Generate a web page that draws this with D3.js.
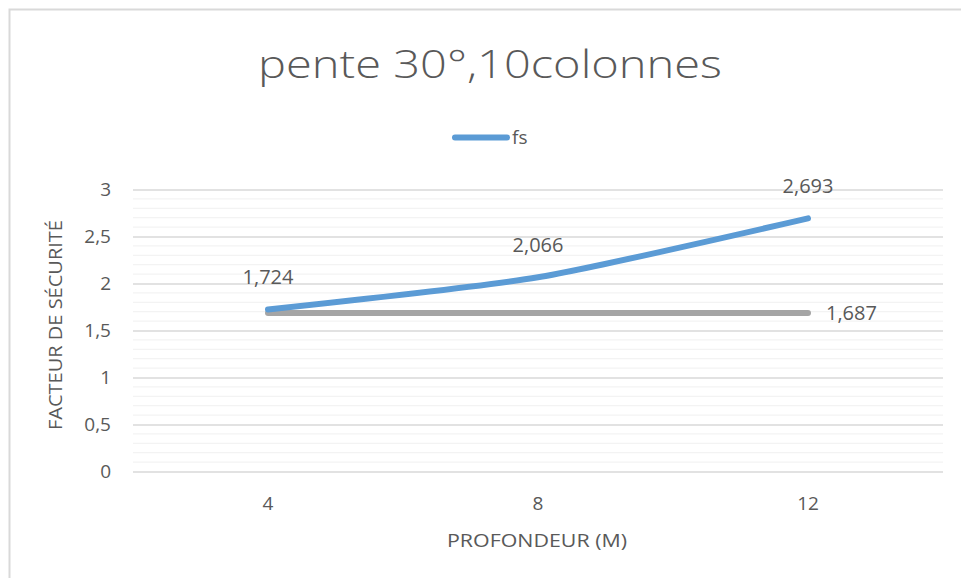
<!DOCTYPE html>
<html>
<head>
<meta charset="utf-8">
<script src="https://cdn.jsdelivr.net/npm/d3@7"></script>
<style>
  html, body { margin: 0; padding: 0; background: #fff; }
  svg { display: block; }
  text { font-family: "Open Sans", "Liberation Sans", sans-serif; fill: #595959; }
</style>
</head>
<body>
<svg id="chart" width="961" height="578"></svg>
<script>
// Depth categories (m) and safety factors
const depths = ["4", "8", "12"];
const fsValues = [1.724, 2.066, 2.693];
const limitValues = [1.687, 1.687, 1.687];
const yTicks = [0, 0.5, 1, 1.5, 2, 2.5, 3];
const seriesNames = ["fs", ""];

const titleText = "pente 30°,10colonnes";
const xTitle = "PROFONDEUR (M)";
const yTitle = "FACTEUR DE SÉCURITÉ";

const svg = d3.select("#chart");
const W = 961, H = 578;
const margin = { left: 133, right: 18, top: 189.5, bottom: 106.5 };

// Chart frame (only top and left edges fall inside the view)
svg.append("rect")
  .attr("x", 9.5).attr("y", 9.5)
  .attr("width", 1000).attr("height", 700)
  .attr("fill", "#fff").attr("stroke", "#d9d9d9").attr("stroke-width", 2);

const x = d3.scaleBand().domain(depths)
  .range([margin.left, W - margin.right]);
const y = d3.scaleLinear().domain([0, 3])
  .range([H - margin.bottom, margin.top]);
const fmt = v => d3.format(".3f")(v).replace(".", ",");
const tickFmt = v => String(v).replace(".", ",");

// Minor gridlines every 0.1
const minor = d3.range(0, 31).map(i => i / 10).filter(v => Math.round(v * 10) % 5 !== 0);
svg.append("g").selectAll("line").data(minor).join("line")
  .attr("x1", margin.left).attr("x2", W - margin.right)
  .attr("y1", d => y(d)).attr("y2", d => y(d))
  .attr("stroke", "#f0f0f0").attr("stroke-width", 1);

// Major gridlines and y axis labels
const yAxis = d3.axisLeft(y).tickValues(yTicks).tickFormat(tickFmt)
  .tickSize(-(W - margin.left - margin.right)).tickPadding(22);
const gy = svg.append("g").attr("transform", `translate(${margin.left},0)`).call(yAxis);
gy.select(".domain").remove();
gy.selectAll(".tick line").attr("stroke", "#d9d9d9").attr("stroke-width", 1.3);
gy.selectAll(".tick text").style("font-size", "19px").attr("fill", "#595959");

// X axis labels
const xAxis = d3.axisBottom(x).tickSize(0).tickPadding(25);
const gx = svg.append("g").attr("transform", `translate(0,${H - margin.bottom})`).call(xAxis);
gx.select(".domain").remove();
gx.selectAll(".tick text").style("font-size", "19px").attr("fill", "#595959");

const cx = d => x(d) + x.bandwidth() / 2;

// Limit series (grey, straight)
const limitPts = depths.map((d, i) => [cx(d), y(limitValues[i])]);
svg.append("path").attr("d", d3.line()(limitPts))
  .attr("fill", "none").attr("stroke", "#a5a5a5").attr("stroke-width", 6)
  .attr("stroke-linecap", "round");

// fs series (blue, smoothed)
const fsPts = depths.map((d, i) => [cx(d), y(fsValues[i])]);
svg.append("path").attr("d", d3.line().curve(d3.curveCardinal.tension(0.4))(fsPts))
  .attr("fill", "none").attr("stroke", "#5b9bd5").attr("stroke-width", 6)
  .attr("stroke-linecap", "round").attr("stroke-linejoin", "round");

// Data labels
svg.append("g").selectAll("text").data(depths).join("text")
  .attr("x", d => cx(d))
  .attr("y", (d, i) => y(fsValues[i]) - 25)
  .attr("text-anchor", "middle")
  .style("font-size", "20px")
  .text((d, i) => fmt(fsValues[i]));

const last = depths.length - 1;
svg.append("text")
  .attr("x", cx(depths[last]) + 18)
  .attr("y", y(limitValues[last]) + 7)
  .style("font-size", "20px")
  .text(fmt(limitValues[last]));

// Title
svg.append("text")
  .attr("x", 490).attr("y", 78)
  .attr("text-anchor", "middle")
  .style("font-size", "38px").style("font-weight", 300)
  .attr("textLength", 464).attr("lengthAdjust", "spacingAndGlyphs")
  .text(titleText);

// Legend
svg.append("line")
  .attr("x1", 455).attr("x2", 507).attr("y1", 137.5).attr("y2", 137.5)
  .attr("stroke", "#5b9bd5").attr("stroke-width", 6).attr("stroke-linecap", "round");
svg.append("text")
  .attr("x", 512).attr("y", 144)
  .style("font-size", "19px")
  .text(seriesNames[0]);

// Axis titles
svg.append("text")
  .attr("x", 537).attr("y", 547)
  .attr("text-anchor", "middle")
  .style("font-size", "19px")
  .attr("textLength", 180).attr("lengthAdjust", "spacingAndGlyphs")
  .text(xTitle);

svg.append("text")
  .attr("transform", "translate(62,325) rotate(-90)")
  .attr("text-anchor", "middle")
  .style("font-size", "19px")
  .attr("textLength", 210).attr("lengthAdjust", "spacingAndGlyphs")
  .text(yTitle);
</script>
</body>
</html>
